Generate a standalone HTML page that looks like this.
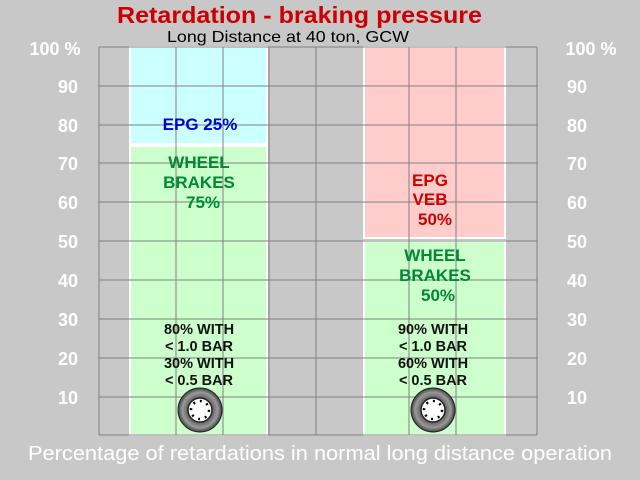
<!DOCTYPE html>
<html><head><meta charset="utf-8"><style>
body{margin:0;background:#c8c8c8;}
svg{display:block;font-family:"Liberation Sans",Arial,sans-serif;}
</style></head><body>
<svg width="640" height="480" viewBox="0 0 640 480">
<rect width="640" height="480" fill="#c8c8c8"/>
<rect x="130" y="47" width="137" height="97" fill="#ccffff" stroke="#fff" stroke-width="2"/>
<rect x="130" y="146" width="137" height="289" fill="#ccffcc" stroke="#fff" stroke-width="2"/>
<rect x="364" y="47" width="141" height="191" fill="#ffcccc" stroke="#fff" stroke-width="2"/>
<rect x="364" y="241" width="141" height="194" fill="#ccffcc" stroke="#fff" stroke-width="2"/>
<g stroke="#808080" stroke-width="1">
<line x1="99" y1="47" x2="537" y2="47"/>
<line x1="99" y1="86" x2="537" y2="86"/>
<line x1="99" y1="125" x2="537" y2="125"/>
<line x1="99" y1="163" x2="537" y2="163"/>
<line x1="99" y1="202" x2="537" y2="202"/>
<line x1="99" y1="241" x2="537" y2="241"/>
<line x1="99" y1="280" x2="537" y2="280"/>
<line x1="99" y1="319" x2="537" y2="319"/>
<line x1="99" y1="358" x2="537" y2="358"/>
<line x1="99" y1="397" x2="537" y2="397"/>
<line x1="99" y1="435" x2="537" y2="435"/>
<line x1="99" y1="47" x2="99" y2="435"/>
<line x1="176" y1="47" x2="176" y2="435"/>
<line x1="223" y1="47" x2="223" y2="435"/>
<line x1="269" y1="47" x2="269" y2="435"/>
<line x1="316" y1="47" x2="316" y2="435"/>
<line x1="409" y1="47" x2="409" y2="435"/>
<line x1="456" y1="47" x2="456" y2="435"/>
<line x1="537" y1="47" x2="537" y2="435"/>
</g>
<text x="117" y="23" font-size="23" font-weight="bold" fill="#cc0000" textLength="365" lengthAdjust="spacingAndGlyphs">Retardation -  braking pressure</text>
<text x="167" y="42" font-size="16" fill="#000" textLength="242" lengthAdjust="spacingAndGlyphs">Long Distance at 40 ton, GCW</text>
<g font-size="18" font-weight="bold" fill="#fff" text-anchor="middle">
<text x="55" y="55">100 %</text><text x="591" y="55">100 %</text>
<text x="68" y="93">90</text><text x="577" y="93">90</text>
<text x="68" y="132">80</text><text x="577" y="132">80</text>
<text x="68" y="170">70</text><text x="577" y="170">70</text>
<text x="68" y="209">60</text><text x="577" y="209">60</text>
<text x="68" y="248">50</text><text x="577" y="248">50</text>
<text x="68" y="287">40</text><text x="577" y="287">40</text>
<text x="68" y="326">30</text><text x="577" y="326">30</text>
<text x="68" y="365">20</text><text x="577" y="365">20</text>
<text x="68" y="404">10</text><text x="577" y="404">10</text>
</g>
<g font-size="17" font-weight="bold" text-anchor="middle">
<text x="200" y="130" fill="#0000cc">EPG 25%</text>
<text x="199" y="168" fill="#008833">WHEEL</text>
<text x="199" y="188" fill="#008833">BRAKES</text>
<text x="203" y="208" fill="#008833">75%</text>
<text x="430" y="186" fill="#cc0000">EPG</text>
<text x="430" y="205" fill="#cc0000">VEB</text>
<text x="435" y="225" fill="#cc0000">50%</text>
<text x="435" y="261" fill="#008833">WHEEL</text>
<text x="435" y="281" fill="#008833">BRAKES</text>
<text x="438" y="301" fill="#008833">50%</text>
</g>
<g font-size="14.5" font-weight="bold" text-anchor="middle" fill="#111">
<text x="199" y="334">80% WITH</text>
<text x="199" y="351">&lt; 1.0 BAR</text>
<text x="199" y="368">30% WITH</text>
<text x="199" y="385">&lt; 0.5 BAR</text>
<text x="433" y="334">90% WITH</text>
<text x="433" y="351">&lt; 1.0 BAR</text>
<text x="433" y="368">60% WITH</text>
<text x="433" y="385">&lt; 0.5 BAR</text>
</g>
<defs><radialGradient id="t"><stop offset="0.5" stop-color="#555"/><stop offset="0.8" stop-color="#999"/><stop offset="1" stop-color="#444"/></radialGradient></defs>
<g>
<circle cx="200" cy="410" r="22" fill="url(#t)" stroke="#222"/>
<circle cx="200" cy="410" r="12" fill="#fff" stroke="#222" stroke-width="1.5"/>
<circle cx="200" cy="410" r="9" fill="none" stroke="#000" stroke-width="2.5" stroke-dasharray="2 5"/>
<circle cx="433" cy="410" r="22" fill="url(#t)" stroke="#222"/>
<circle cx="433" cy="410" r="12" fill="#fff" stroke="#222" stroke-width="1.5"/>
<circle cx="433" cy="410" r="9" fill="none" stroke="#000" stroke-width="2.5" stroke-dasharray="2 5"/>
</g>
<text x="28" y="460" font-size="20" fill="#fff" textLength="584" lengthAdjust="spacingAndGlyphs">Percentage of retardations in normal long distance operation</text>
</svg>
</body></html>
